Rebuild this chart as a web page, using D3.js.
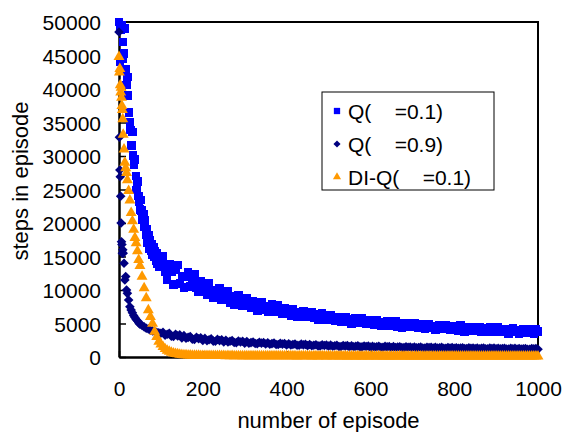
<!DOCTYPE html>
<html>
<head>
<meta charset="utf-8">
<script src="https://cdn.jsdelivr.net/npm/d3@7"></script>
<style>
  body { margin: 0; background: #fff; }
  text { font-family: "Liberation Sans", Arial, sans-serif; fill: #000; }
</style>
</head>
<body>
<script>
// episode positions: dense at the start, every 5 episodes after 100
var blueEpisodes = d3.range(0, 101, 2).concat(d3.range(105, 1001, 5));
var otherEpisodes = [0,1,2,3,4,5,6,7,8,9,10,12,14,16,18,20,23,26,29,32,35,38,41,44,47,50,55,60,65,70,75,80,85,90,95,100]
    .concat(d3.range(105, 1001, 5));

var q01 = [50000,44000,48900,49500,44500,47000,45300,49000,43000,40600,41800,39000,36500,35000,33900,31600,33600,30100,28700,29500,
  27000,24900,26200,24000,23200,22000,23400,21900,20500,21300,19400,20400,18300,19000,17000,18200,16200,17500,15800,16900,
  15200,16400,14900,15800,14400,15500,13900,14800,13500,14600,13800,
  15100,12700,11600,13900,12700,10800,13000,13700,11000,12100,
  10400,12000,12600,10500,11400,12300,10400,9700,11300,10400,
  10900,9350,11000,9900,8800,10000,9200,10300,8600,9300,
  8700,9750,8100,9000,7750,9000,9200,8300,7700,8300,
  8800,7700,7300,8300,7750,6900,7900,8200,7000,7550,
  6700,7500,7800,6800,7200,7700,6800,6400,7250,6800,
  7100,6200,7200,6600,6000,6700,6300,6900,6000,6400,
  6100,6750,5800,6400,5600,6400,6500,6000,5600,6000,
  6300,5700,5400,6000,5700,5200,5800,6000,5300,5600,
  5000,5600,5800,5100,5400,5800,5200,4900,5500,5200,
  5400,4800,5500,5100,4600,5200,4900,5300,4700,5000,
  4800,5300,4500,5000,4400,5000,5100,4700,4500,4800,
  5100,4500,4300,4900,4600,4200,4700,4900,4300,4600,
  4100,4600,4800,4200,4500,4800,4200,4000,4600,4300,
  4500,3950,4700,4200,3800,4400,4100,4500,3900,4200,
  4000,4500,3800,4300,3700,4300,4400,4000,3800,4100,
  4400,3900,3700,4200,3950,3500,4100,4300,3700,4000,
  3500,4000,4200,3600,3900,4200,3700,3500,4100,3800];

var q09 = [48500,32800,27900,26900,24000,20000,17200,16800,15500,16000,15500,14000,11500,12000,10000,9500,8500,7500,7000,6600,6200,5900,5600,5400,5100,4900,4700,4500,4300,4200,4000,3900,3800,3700,3600,3550,
  3700,3250,3400,3550,3100,3050,3400,3150,3300,2850,
  3190,2790,2930,3070,2670,2630,2950,2730,2870,2470,
  2775,2450,2575,2700,2375,2350,2625,2450,2575,2250,
  2510,2230,2340,2450,2170,2150,2390,2240,2350,2070,
  2295,2060,2150,2245,2010,1990,2195,2070,2165,1930,
  2125,1910,1995,2085,1870,1855,2040,1925,2015,1800,
  1980,1790,1870,1945,1755,1745,1915,1810,1890,1700,
  1860,1690,1760,1835,1665,1655,1805,1715,1790,1620,
  1770,1600,1675,1745,1575,1570,1720,1630,1705,1540,
  1680,1535,1600,1660,1515,1505,1640,1565,1625,1480,
  1615,1470,1535,1595,1450,1445,1580,1505,1565,1420,
  1545,1420,1475,1525,1400,1395,1510,1445,1495,1370,
  1485,1360,1415,1470,1345,1345,1460,1395,1450,1330,
  1445,1320,1375,1430,1305,1300,1415,1350,1405,1280,
  1385,1280,1325,1370,1265,1265,1360,1305,1350,1250,
  1345,1240,1290,1335,1230,1230,1325,1270,1320,1220,
  1315,1210,1255,1305,1200,1195,1290,1240,1285,1180,
  1275,1175,1220,1270,1165,1160,1260,1205,1255,1150];

var diq01 = [44800,42500,43000,40600,39500,40200,38700,37500,36900,35500,33200,31000,29000,28200,27500,26400,24800,23400,21500,20300,19000,17800,17000,15800,14500,13600,12000,10300,8800,7000,6000,5000,3800,3000,2300,1900,
  1500,1200,950,800,650,560,480,420,370,330,
  300,280,260,240,230,220,210,200,190,190,
  180,190,170,180,170,160,175,165,160,170,
  150,165,140,160,150,135,155,145,140,150,
  145,130,150,140,125,145,135,140,130,145,
  140,125,135,145,120,135,130,140,125,130,
  135,120,130,140,115,130,125,135,120,125,
  130,115,125,135,110,125,120,130,115,120,
  125,110,120,130,110,120,115,125,110,115,
  120,105,115,125,105,115,110,120,105,110,
  120,105,115,120,100,115,110,115,105,110,
  115,100,110,120,100,110,105,115,100,110,
  115,100,110,115,95,110,105,110,100,105,
  110,95,105,115,95,105,100,110,95,105,
  110,95,105,110,90,105,100,105,95,100,
  105,90,100,110,90,100,95,105,90,100,
  105,90,100,105,90,100,95,100,90,95,
  100,90,95,105,85,95,95,100,90,95];

var xTicks = [0,200,400,600,800,1000];
var yTicks = [0,5000,10000,15000,20000,25000,30000,35000,40000,45000,50000];
var seriesNames = ["Q(\u00a0\u00a0\u00a0\u00a0=0.1)", "Q(\u00a0\u00a0\u00a0\u00a0=0.9)", "DI-Q(\u00a0\u00a0\u00a0\u00a0=0.1)"];
var seriesColors = ["#0000ff", "#000080", "#ff9900"];

var chartWidth = 562, chartHeight = 432;
var plotLeft = 119, plotRight = 538, plotTop = 22, plotBottom = 357;

var svg = d3.select("body").append("svg")
    .attr("width", chartWidth)
    .attr("height", chartHeight);

var x = d3.scaleLinear().domain([0, 1000]).range([plotLeft, plotRight]);
var y = d3.scaleLinear().domain([0, 50000]).range([plotBottom, plotTop]);

// plot border (top and right)
svg.append("path")
    .attr("d", "M" + plotLeft + "," + plotTop + "H" + plotRight + "V" + plotBottom)
    .attr("fill", "none")
    .attr("stroke", "#000")
    .attr("stroke-width", 2);

var yAxis = svg.append("g")
    .attr("transform", "translate(" + plotLeft + ",0)")
    .call(d3.axisLeft(y).tickValues(yTicks).tickFormat(d3.format("d"))
        .tickSizeInner(-7).tickSizeOuter(0).tickPadding(18));
var xAxis = svg.append("g")
    .attr("transform", "translate(0," + plotBottom + ")")
    .call(d3.axisBottom(x).tickValues(xTicks).tickFormat(d3.format("d"))
        .tickSizeInner(-6).tickSizeOuter(0).tickPadding(24));

[yAxis, xAxis].forEach(function(a) {
    a.select(".domain").attr("stroke", "#000").attr("stroke-width", 2.5);
    a.selectAll(".tick line").attr("stroke", "#000").attr("stroke-width", 1.5);
    a.selectAll("text")
        .style("font-family", '"Liberation Sans", Arial, sans-serif')
        .style("font-size", "21px")
        .attr("fill", "#000");
});
yAxis.selectAll("text").attr("dy", "0.36em");

// square turned 45 degrees, like the Excel diamond marker
var diamond = {
    draw: function(context, size) {
        var r = Math.sqrt(size) * 0.62;
        context.moveTo(0, -r);
        context.lineTo(r, 0);
        context.lineTo(0, r);
        context.lineTo(-r, 0);
        context.closePath();
    }
};

var symbols = [d3.symbolSquare, diamond, d3.symbolTriangle];
var sizes = [72, 60, 52];
var allSeries = [q01, q09, diq01];
var allEpisodes = [blueEpisodes, otherEpisodes, otherEpisodes];

allSeries.forEach(function(vals, i) {
    var sym = d3.symbol().type(symbols[i]).size(sizes[i]);
    var eps = allEpisodes[i];
    svg.append("g")
        .attr("shape-rendering", i == 0 ? "crispEdges" : null)
        .selectAll("path")
        .data(vals)
        .enter()
        .append("path")
        .attr("d", sym)
        .attr("transform", function(d, j) {
            return "translate(" + x(eps[j]) + "," + y(d) + ")";
        })
        .attr("fill", seriesColors[i]);
});

// axis titles
svg.append("text")
    .attr("x", (plotLeft + plotRight) / 2)
    .attr("y", 428)
    .attr("text-anchor", "middle")
    .style("font-size", "22px")
    .text("number of episode");

svg.append("text")
    .attr("transform", "translate(28,181) rotate(-90)")
    .attr("text-anchor", "middle")
    .style("font-size", "22px")
    .text("steps in episode");

// legend
var legend = svg.append("g");
legend.append("rect")
    .attr("x", 322).attr("y", 92)
    .attr("width", 172).attr("height", 98)
    .attr("fill", "#fff")
    .attr("stroke", "#000")
    .attr("stroke-width", 1);

var rowY = [111, 144, 177];
seriesNames.forEach(function(name, i) {
    legend.append("path")
        .attr("d", d3.symbol().type(symbols[i]).size(sizes[i] * 0.55))
        .attr("transform", "translate(337," + rowY[i] + ")")
        .attr("fill", seriesColors[i]);
    legend.append("text")
        .attr("x", 348)
        .attr("y", rowY[i])
        .attr("dy", "0.36em")
        .style("font-size", "21px")
        .style("white-space", "pre")
        .text(name);
});
</script>
</body>
</html>
